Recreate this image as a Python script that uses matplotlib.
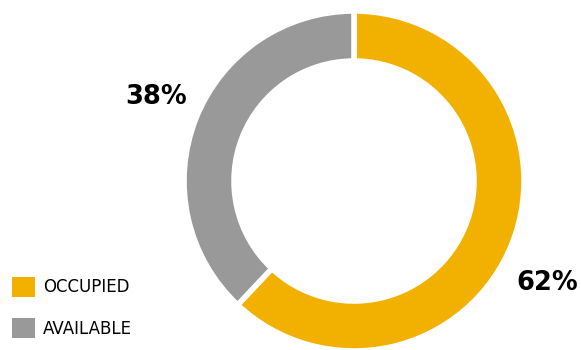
import matplotlib.pyplot as plt

# data
labels = ["OCCUPIED", "AVAILABLE"]
shares = [62, 38]
colors = ["#F2B000", "#999999"]
pct_labels = ["62%", "38%"]

fig = plt.figure(figsize=(5.81, 3.5), dpi=100)
ax = fig.add_axes([0, 0, 1, 1])

wedges, _ = ax.pie(shares, colors=colors, startangle=90, counterclock=False,
                   center=(354, -181), radius=170,
                   wedgeprops=dict(width=50, edgecolor="white", linewidth=4))

ax.set_xlim(0, 581)
ax.set_ylim(-350, 0)
ax.set_aspect("equal")
ax.axis("off")

# percentage labels
ax.text(547, -283, pct_labels[0], fontsize=18.5, fontweight="bold",
        ha="center", va="center", color="#000000")
ax.text(156, -97, pct_labels[1], fontsize=18.5, fontweight="bold",
        ha="center", va="center", color="#000000")

leg = ax.legend(wedges, labels, loc="lower left", bbox_to_anchor=(0.0, 0.0),
                frameon=False, fontsize=12, handlelength=1.4, handleheight=1.5,
                handletextpad=0.5, labelspacing=1.25, borderaxespad=0.45,
                borderpad=0.25)
for t in leg.get_texts():
    t.set_color("#000000")
for h in leg.legend_handles:
    h.set_edgecolor("none")

fig.savefig("out.png", dpi=100)
